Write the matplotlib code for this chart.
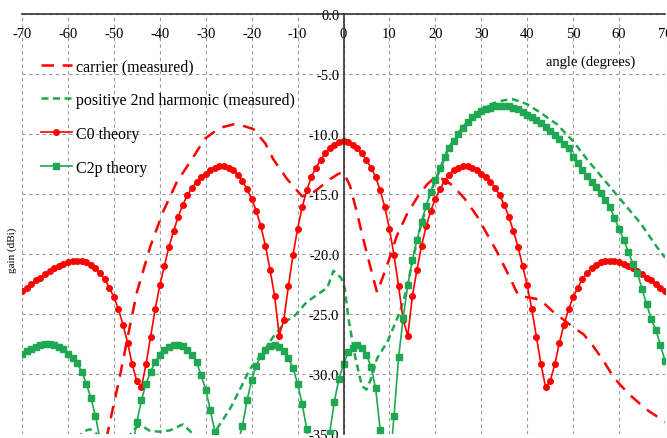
import numpy as np
import matplotlib
matplotlib.use("Agg")
import matplotlib.pyplot as plt

plt.rcParams['font.family'] = ['Liberation Serif', 'DejaVu Serif']
plt.rcParams['axes.unicode_minus'] = False

# theory curves, one point per degree from -70 to 70
angle = np.arange(-70, 71)

c0_theory = [
  -23.1, -22.8, -22.5, -22.2, -22.0, -21.7, -21.4, -21.2, -21.0, -20.8,
  -20.7, -20.6, -20.6, -20.6, -20.7, -20.9, -21.2, -21.6, -22.1, -22.8,
  -23.6, -24.6, -25.9, -27.4, -29.2, -30.6, -31.1, -29.2, -26.9, -24.6,
  -22.6, -21.0, -19.4, -18.1, -16.9, -15.9, -15.1, -14.5, -14.0, -13.6,
  -13.3, -13.0, -12.8, -12.7, -12.7, -12.8, -13.0, -13.4, -13.9, -14.6,
  -15.4, -16.4, -17.7, -19.3, -21.3, -23.5, -26.8, -25.5, -22.7, -20.1,
  -17.9, -16.1, -14.7, -13.6, -12.8, -12.2, -11.6, -11.2, -10.9, -10.7,
  -10.6,
  -10.7, -10.9, -11.2, -11.6, -12.2, -12.8, -13.6, -14.7, -16.1, -17.9,
  -20.1, -22.7, -25.5, -26.8, -23.5, -21.3, -19.3, -17.7, -16.4, -15.4,
  -14.6, -13.9, -13.4, -13.0, -12.8, -12.7, -12.7, -12.8, -13.0, -13.3,
  -13.6, -14.0, -14.5, -15.1, -15.9, -16.9, -18.1, -19.4, -21.0, -22.6,
  -24.6, -26.9, -29.2, -31.1, -30.6, -29.2, -27.4, -25.9, -24.6, -23.6,
  -22.8, -22.1, -21.6, -21.2, -20.9, -20.7, -20.6, -20.6, -20.6, -20.7,
  -20.8, -21.0, -21.2, -21.4, -21.7, -22.0, -22.2, -22.5, -22.8, -23.1]

c2p_theory = [
  -28.3, -28.1, -27.9, -27.75, -27.6, -27.5, -27.5, -27.6, -27.75, -27.95,
  -28.3, -28.7, -29.1, -29.8, -30.8, -32.0, -33.5, -35.5, -39.0, -44.0,
  -48.0, -44.0, -40.5, -38.0, -36.2, -34.0, -32.2, -30.8, -29.8, -29.0,
  -28.4, -28.0, -27.75, -27.6, -27.6, -27.7, -28.0, -28.4, -29.0, -30.1,
  -31.3, -33.0, -34.8, -38.0, -42.0, -40.0, -37.5, -35.8, -34.3, -32.2,
  -30.5, -29.3, -28.5, -28.0, -27.7, -27.6, -27.75, -28.1, -28.7, -29.5,
  -30.8, -32.5, -34.6, -38.0, -42.0, -45.0, -40.0, -34.9, -32.3, -30.4,
  -29.2,
  -28.2, -27.8, -27.6, -27.8, -28.4, -29.4, -31.2, -34.7, -42.0, -38.0,
  -33.5, -28.6, -25.3, -22.6, -20.5, -18.8, -17.3, -16.0, -14.8, -13.8,
  -12.8, -11.9, -11.2, -10.6, -10.0, -9.5, -9.0, -8.6, -8.3, -8.1,
  -7.9, -7.8, -7.7, -7.65, -7.65, -7.7, -7.8, -7.95, -8.15, -8.4,
  -8.6, -8.85, -9.1, -9.4, -9.75, -10.1, -10.45, -10.8, -11.2, -11.9,
  -12.4, -13.0, -13.5, -14.0, -14.4, -14.9, -15.5, -16.1, -17.0, -17.9,
  -18.8, -19.8, -20.8, -21.6, -22.9, -24.2, -25.4, -26.3, -27.6, -28.9]

# measured curves
carrier_ang = [-53, -51.3, -50, -48.7, -46.5, -45, -42, -39.3, -36.3, -33, -30.2, -27, -24, -22,
  -19.6, -17, -15.3, -12.3, -9, -7, -5, -2.9, -1, 0, 1.4, 2.9, 4.3, 5.8, 7.3, 8.4, 9.7,
  11.6, 13.8, 16.2, 18.2, 19.5, 21.7, 23.8, 26.4, 29, 31.2, 33.4, 36, 38, 40, 42.8, 45.6,
  48, 50, 52.3, 54.4, 56.6, 58.7, 60, 62.5, 64.6, 66.5, 68.5, 70]
carrier_gain = [-38, -34.8, -32.5, -30.2, -26, -23.2, -19.3, -16.5, -14, -12.1, -10.4, -9.5, -9.2, -9.3,
  -9.6, -10.8, -12.1, -13.75, -15.2, -15.0, -14.4, -13.75, -13.3, -13.2, -14.3, -16.5, -18.75, -21, -23.2, -22.1, -20.7,
  -18.5, -16.7, -15.2, -14.2, -13.75, -13.75, -14.3, -15.4, -16.8, -18.3, -19.8, -21.8, -23.4, -23.6, -23.8, -24.8,
  -25.5, -26.1, -26.7, -27.7, -28.9, -30.2, -30.8, -31.8, -32.5, -33.1, -33.6, -34.0]

harm_ang = [-59, -56.7, -55.2, -53.7, -52, -48, -46, -45, -43.6, -42.1, -40, -37.8, -35, -33.4,
  -31, -29, -27.6, -24.7, -22.5, -20.4, -17.5, -15.3, -12.5, -10.5, -8, -5, -3.5, -2.2, -0.5,
  0.3, 1, 2.5, 4, 5, 6.2, 7.3, 8.6, 9.7, 12.3, 13.8, 15, 16.6, 18.8, 21, 22.7, 25, 27.5,
  31.2, 34.8, 36.9, 39.9, 42.8, 46.5, 50, 53, 56.6, 60.2, 64.6, 68.2, 70]
harm_gain = [-36, -34.8, -34.6, -35.0, -36, -36, -34.8, -34.4, -34.4, -34.75, -34.8, -34.7, -34.2, -34.75,
  -36, -35.5, -34.6, -32.9, -31.25, -29.6, -28.2, -26.9, -25.6, -25.1, -24.0, -23.2, -22.8, -21.4, -22.0,
  -22.9, -25.2, -28.5, -31.0, -31.3, -30.2, -28.7, -27.9, -27.2, -24.8, -22.9, -20.6, -18.0, -15.0, -13.0, -11.3, -9.9, -8.75,
  -7.6, -7.2, -7.1, -7.5, -8.2, -9.2, -10.6, -12.1, -13.75, -15.4, -17.4, -19.4, -20.3]

red = '#ff0000'
green = '#1fa851'

fig = plt.figure(figsize=(6.67, 4.39), dpi=100)
ax = fig.add_axes([22/667, 4/439, 643/667, 420/439])

ax.plot(carrier_ang, carrier_gain, color=red, lw=1.8, dashes=(5, 3.5), label="carrier (measured)")
ax.plot(harm_ang, harm_gain, color=green, lw=1.8, dashes=(2.8, 1.8), label="positive 2nd harmonic (measured)")
ax.plot(angle, c0_theory, color=red, lw=1.2, marker='o', ms=4, label="C0 theory")
ax.plot(angle, c2p_theory, color=green, lw=1.2, marker='s', ms=4.2, label="C2p theory")

ax.set_xlim(-70, 70)
ax.set_ylim(-35, 0)
ax.set_xticks(np.arange(-70, 71, 10))
ax.set_yticks(np.arange(-35, 1, 5))
ax.set_yticklabels(["%.1f" % v for v in np.arange(-35, 1, 5)])

# axes cross at (0, 0) like the spreadsheet original
ax.spines['bottom'].set_position(('data', 0))
ax.spines['left'].set_position(('data', 0))
ax.spines['top'].set_visible(False)
ax.spines['right'].set_visible(False)
for s in ('bottom', 'left'):
  ax.spines[s].set_color('#333333')
  ax.spines[s].set_linewidth(1.2)
  ax.spines[s].set_zorder(5)
ax.tick_params(length=0, labelsize=10.5, pad=3)
ax.tick_params(axis='x', pad=9)
ax.grid(True, color='#999999', linestyle=(0, (3, 3)), linewidth=0.8)
ax.set_axisbelow(True)

ax.text(53.7, -3.9, "angle (degrees)", ha='center', va='center', fontsize=10.5)
fig.text(12/667, 1 - 250/439, "gain (dBi)", rotation=90, ha='center', va='center', fontsize=8)

ax.legend(loc='upper left', bbox_to_anchor=(0.03, 0.895), frameon=False, fontsize=11.5,
          borderpad=0, borderaxespad=0, handlelength=1.9, handletextpad=0.3,
          labelspacing=1.12, numpoints=1)

plt.savefig("out.png", dpi=100)
